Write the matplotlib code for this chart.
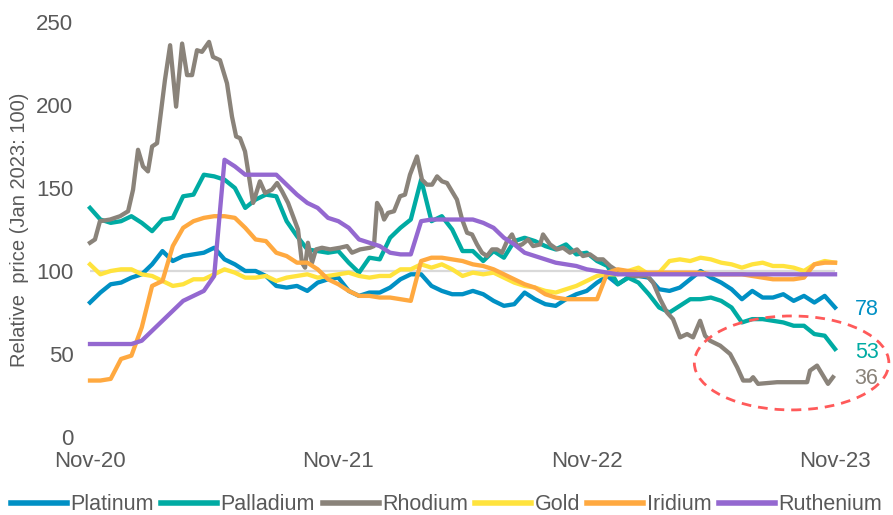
"""
Relative prices of the platinum group metals and gold (Jan 2023 = 100)
"""

import numpy as np
import matplotlib
matplotlib.use('Agg')
import matplotlib.pyplot as plt
from matplotlib.patches import Ellipse

plt.rcParams['font.family'] = ['Liberation Sans', 'DejaVu Sans']

# x axis: months since Nov-20, sampled every half month
months = np.arange(73) * 0.5
tick_months = [0, 12, 24, 36]
tick_labels = ['Nov-20', 'Nov-21', 'Nov-22', 'Nov-23']

platinum = [81, 87, 92, 93, 96, 98, 104, 112, 106, 109,
            110, 111, 114, 107, 104, 100, 100, 97, 91, 90,
            91, 88, 93, 95, 96, 88, 85, 87, 87, 90,
            95, 98, 98, 91, 88, 86, 86, 88, 86, 82,
            79, 80, 87, 83, 80, 79, 83, 86, 88, 93,
            97, 92, 96, 97, 96, 89, 88, 90, 95, 100,
            96, 93, 89, 83, 88, 84, 84, 86, 82, 85,
            81, 85, 78]

palladium = [138, 131, 129, 130, 133, 129, 124, 131, 132, 145,
             146, 158, 157, 155, 150, 138, 143, 146, 145, 130,
             121, 113, 112, 111, 112, 105, 99, 108, 107, 120,
             126, 131, 155, 130, 133, 125, 112, 112, 106, 112,
             108, 118, 120, 118, 115, 113, 116, 110, 111, 106,
             103, 92, 96, 93, 86, 78, 75, 79, 83, 83,
             84, 82, 78, 69, 71, 71, 70, 69, 67, 67,
             62, 61, 53]

gold = [104, 98, 100, 101, 101, 98, 97, 94, 91, 92,
        95, 95, 98, 101, 99, 96, 96, 97, 94, 96,
        97, 98, 96, 97, 98, 99, 97, 96, 97, 97,
        101, 101, 104, 102, 104, 101, 97, 99, 98, 99,
        96, 93, 91, 90, 88, 87, 89, 91, 94, 97,
        98, 98, 100, 102, 98, 99, 106, 107, 106, 108,
        107, 105, 104, 102, 104, 105, 103, 103, 102, 100,
        104, 106, 105]

iridium = [34, 34, 35, 47, 49, 66, 91, 94, 115, 126,
           130, 132, 133, 133, 132, 126, 119, 118, 111, 109,
           105, 105, 101, 95, 92, 88, 85, 85, 84, 84,
           83, 82, 106, 108, 108, 107, 106, 104, 103, 101,
           98, 95, 92, 90, 86, 84, 83, 83, 83, 83,
           99, 101, 100, 99, 99, 99, 99, 99, 99, 99,
           98, 98, 98, 98, 97, 96, 95, 95, 95, 96,
           104, 105, 105]

ruthenium = [56, 56, 56, 56, 56, 58, 64, 70, 76, 82,
             85, 88, 97, 167, 163, 158, 158, 158, 158, 152,
             146, 141, 138, 132, 130, 126, 119, 117, 115, 111,
             110, 110, 130, 131, 131, 131, 131, 131, 129, 126,
             120, 116, 111, 109, 107, 105, 104, 103, 101, 100,
             99, 98, 98, 98, 98, 98, 98, 98, 98, 98,
             98, 98, 98, 98, 98, 98, 98, 98, 98, 98,
             98, 98, 98]

# rhodium moves in sharp spikes, so it keeps its own finer time points
rh_months = [0, 0.24, 0.48, 0.97, 1.45, 1.84, 2.08, 2.32, 2.56, 2.80,
             3.0, 3.24, 3.38, 3.62, 3.87, 4.16, 4.45, 4.69, 4.93, 5.17,
             5.41, 5.75, 5.94, 6.28, 6.62, 6.86, 7.06, 7.25, 7.49, 7.68,
             7.88, 8.21, 8.46, 8.79, 9.04, 9.28, 9.57, 9.81, 10.05, 10.24,
             10.39, 10.53, 10.73, 10.92, 11.21, 11.6, 12.08, 12.42, 12.66, 13.05,
             13.53, 13.72, 13.87, 14.06, 14.21, 14.4, 14.69, 14.98, 15.22, 15.46,
             15.8, 16.04, 16.28, 16.53, 16.77, 17.01, 17.25, 17.49, 17.73, 17.98,
             18.22, 18.46, 18.7, 18.94, 19.18, 19.43, 19.67, 19.91, 20.15, 20.39,
             20.63, 20.88, 21.17, 21.41, 21.75, 21.89, 22.23, 22.57, 22.86, 23.19,
             23.53, 23.82, 24.16, 24.5, 24.79, 25.13, 25.61, 26.24, 26.92, 27.21,
             27.55, 27.88, 28.17, 28.51, 28.85, 29.14, 29.48, 29.72, 29.96, 30.45,
             30.93, 31.27, 31.56, 31.9, 32.04, 32.28, 33.2, 34.65, 34.79, 35.13,
             35.42, 35.66, 35.9]
rhodium = [117, 119, 130, 131, 133, 136, 149, 173, 163, 160,
           175, 177, 191, 215, 236, 199, 237, 218, 218, 233,
           232, 238, 229, 227, 213, 193, 181, 180, 172, 157,
           141, 154, 147, 149, 153, 148, 141, 133, 125, 105,
           102, 117, 105, 113, 114, 113, 114, 115, 111, 113,
           114, 115, 141, 137, 131, 135, 136, 145, 146, 158,
           169, 155, 152, 152, 157, 154, 153, 148, 143, 131,
           123, 122, 116, 111, 109, 113, 113, 111, 118, 122,
           115, 116, 119, 115, 116, 122, 116, 113, 114, 111,
           113, 109, 110, 107, 107, 103, 99, 97, 97, 93,
           83, 75, 71, 60, 62, 60, 70, 61, 58, 55,
           50, 42, 34, 34, 36, 32, 33, 33, 40, 43,
           37, 32, 36]

series = [
    ('Platinum', months, platinum, '#0090C4'),
    ('Palladium', months, palladium, '#00ABA3'),
    ('Rhodium', rh_months, rhodium, '#8A837A'),
    ('Gold', months, gold, '#FFE33D'),
    ('Iridium', months, iridium, '#FFA940'),
    ('Ruthenium', months, ruthenium, '#9468D0'),
]

# end-of-series labels
end_labels = [('78', 77, '#0090C4'), ('53', 51, '#00ABA3'), ('36', 35, '#8A837A')]

text_grey = '#595959'

fig = plt.figure(figsize=(8.93, 5.15), dpi=100)
ax = fig.add_axes([0.1008, 0.1515, 0.8343, 0.8058])

ax.axhline(100, color='#D9D9D9', lw=1.6, zorder=1)

for name, x, y, col in series:
    ax.plot(x, y, color=col, lw=3.1, label=name, solid_joinstyle='round',
            clip_on=False, zorder=3)

for txt, val, col in end_labels:
    ax.text(36.95, val, txt, color=col, fontsize=15.5, ha='left', va='center',
            clip_on=False)

ring = Ellipse((33.9, 44.6), 9.4, 56.6, fill=False, edgecolor='#FF5A5A',
               lw=2.0, linestyle=(0, (3.5, 2.5)), clip_on=False, zorder=5)
ax.add_patch(ring)

ax.set_xlim(0, 36)
ax.set_ylim(0, 250)
ax.set_yticks([0, 50, 100, 150, 200, 250])
ax.set_xticks(tick_months)
ax.set_xticklabels(tick_labels)
ax.tick_params(axis='both', length=0, labelsize=16, colors=text_grey)
ax.tick_params(axis='y', pad=12)
ax.tick_params(axis='x', pad=10)
for s in ax.spines.values():
    s.set_visible(False)

ax.set_ylabel('Relative  price (Jan 2023: 100)', fontsize=14.5, color=text_grey,
              labelpad=5)

leg = fig.legend(loc='lower center', bbox_to_anchor=(0.5, -0.005), ncol=6,
                 frameon=False, fontsize=15.5, handlelength=2.6,
                 handletextpad=0.15, columnspacing=0.35, borderaxespad=0,
                 borderpad=0.1)
for line in leg.get_lines():
    line.set_linewidth(4)
for t in leg.get_texts():
    t.set_color(text_grey)

plt.savefig('out.png', dpi=100)
